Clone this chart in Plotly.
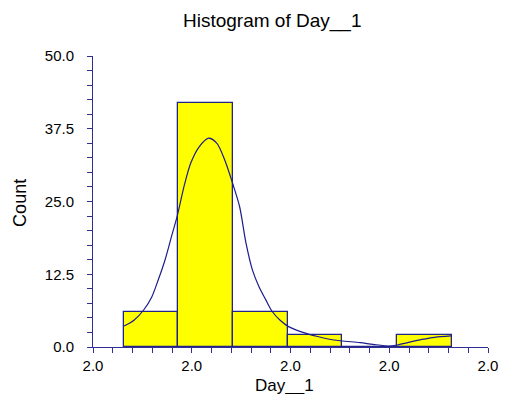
import plotly.graph_objects as go

# Histogram bins (centers) and counts
bin_centers = [1.97178, 1.98284, 1.99390, 2.00496, 2.01602, 2.02708]
bin_width = 0.01106
counts = [6, 42, 6, 2, 0, 2]

# Density curve
curve_x = [1.9663, 1.9683, 1.9703, 1.9719, 1.9732, 1.9746, 1.9759, 1.9770,
           1.9785, 1.9798, 1.9815, 1.9834, 1.9851, 1.9867, 1.9884, 1.9897,
           1.9910, 1.9923, 1.9936, 1.9950, 1.9963, 1.9979, 1.9996, 2.0022,
           2.0055, 2.0088, 2.0141, 2.0167, 2.0200, 2.0216, 2.0239, 2.0266,
           2.0292, 2.0325]
curve_y = [3.6, 4.6, 6.4, 8.6, 11.5, 15.0, 19.0, 22.3,
           27.8, 31.6, 34.4, 35.9, 35.0, 32.1, 27.8, 24.1,
           17.8, 13.2, 10.4, 8.1, 6.1, 4.6, 3.5, 2.6,
           1.8, 1.2, 0.75, 0.46, 0.17, 0.34, 0.8, 1.3,
           1.67, 1.9]

x_ticks = [1.96, 1.98, 2.00, 2.02, 2.04]
y_ticks = [0, 12.5, 25, 37.5, 50]

chart_title = "Histogram of Day__1"
x_title = "Day__1"
y_title = "Count"

axis_color = "#2e2e95"
font = "Liberation Sans, Arial, sans-serif"

fig = go.Figure()
fig.add_trace(go.Bar(
    x=bin_centers, y=counts, width=[bin_width] * len(counts),
    marker=dict(color="#ffff00", line=dict(color="#23238a", width=1.3)),
    hoverinfo="skip",
))
fig.add_trace(go.Scatter(
    x=curve_x, y=curve_y, mode="lines",
    line=dict(color="#1c1c8c", width=1.2, shape="spline", smoothing=0.8),
    hoverinfo="skip",
))

fig.update_layout(
    width=509, height=394,
    margin=dict(l=93, r=11, t=56, b=47),
    paper_bgcolor="white", plot_bgcolor="white",
    showlegend=False,
    font=dict(family=font, size=15, color="black"),
    bargap=0,
    annotations=[
        dict(text=chart_title, xref="paper", yref="paper", x=0.452, y=1.120,
             xanchor="center", yanchor="middle", showarrow=False,
             font=dict(size=19, family=font, color="black")),
        dict(text=x_title, xref="paper", yref="paper", x=0.486, y=-0.134,
             xanchor="center", yanchor="middle", showarrow=False,
             font=dict(size=17, family=font, color="black")),
        dict(text=y_title, xref="paper", yref="paper", x=-0.185, y=0.495,
             xanchor="center", yanchor="middle", showarrow=False, textangle=-90,
             font=dict(size=18, family=font, color="black")),
    ],
)
fig.update_xaxes(
    range=[1.96, 2.04], tickvals=x_ticks, tickformat=".1f",
    showgrid=False, zeroline=False, showline=True, linecolor=axis_color,
    linewidth=1, ticks="outside", ticklen=5, tickcolor=axis_color,
    minor=dict(dtick=0.004, ticks="outside", ticklen=5, tickcolor=axis_color, showgrid=False),
    tickfont=dict(size=15), ticklabelstandoff=0,
)
fig.update_yaxes(
    range=[0, 50], tickvals=y_ticks, tickformat=".1f",
    showgrid=False, zeroline=False, showline=True, linecolor=axis_color,
    linewidth=1, ticks="outside", ticklen=5, tickcolor=axis_color,
    minor=dict(dtick=2.5, ticks="outside", ticklen=5, tickcolor=axis_color, showgrid=False),
    tickfont=dict(size=15), ticklabelstandoff=10,
)

fig.write_html("out.html")
